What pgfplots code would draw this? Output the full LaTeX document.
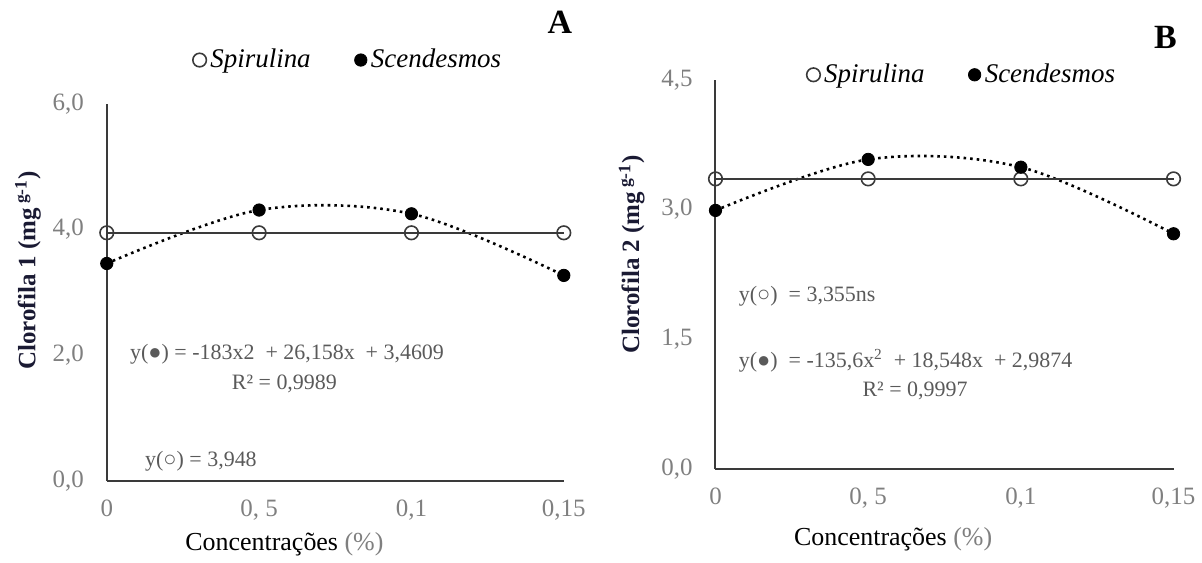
\documentclass[border=0pt]{standalone}
\usepackage{pgfplots}
\pgfplotsset{compat=1.18}
\usepackage{fontspec}
\setmainfont{Liberation Serif}
\definecolor{tickgray}{HTML}{7F7F7F}
\definecolor{axgray}{HTML}{3A3A3A}
\definecolor{eqgray}{HTML}{5A5A5A}
\definecolor{labnavy}{HTML}{1A1A33}

\pgfplotsset{
  chl/.style={
    anchor=south west, scale only axis,
    xmin=0, xmax=3,
    axis lines*=left,
    axis line style={-, axgray, line width=1pt},
    xtick={0,1,2,3}, xticklabels={0,{0, 5},{0,1},{0,15}},
    major tick length=0pt,
    tick label style={tickgray, font=\fontsize{12.5}{14}\selectfont},
    xticklabel style={yshift=-6pt},
    yticklabel style={xshift=-8pt},
    clip=false,
    legend columns=2,
    legend style={draw=none, fill=none, font=\fontsize{13.5}{15}\selectfont\itshape,
      /tikz/every even column/.append style={column sep=20pt}},
    legend image code/.code={\draw[#1] plot coordinates {(0.1cm,0cm)};},
  },
  spir/.style={axgray, line width=1.1pt, mark=o, mark size=3.4pt,
    mark options={solid, line width=0.8pt}},
  scen/.style={only marks, mark=*, black, mark size=3.1pt},
  trend/.style={black, dotted, line width=1.3pt, smooth, tension=0.55, forget plot},
}

\begin{document}
\begin{tikzpicture}[x=0.5pt, y=0.5pt]
\path (0,0) rectangle (1202,564);

% ---- A ----
\begin{axis}[chl, at={(53.5pt,41pt)}, width=229pt, height=189pt,
  ymin=0, ymax=6, ytick={0,2,4,6}, yticklabels={{0,0},{2,0},{4,0},{6,0}},
  legend style={at={(0.53,1.116)}, anchor=center}]
  \addplot[trend] coordinates {(0,3.46) (1,4.31) (2,4.25) (3,3.27)};
  \addplot[spir] coordinates {(0,3.948) (1,3.948) (2,3.948) (3,3.948)};
  \addlegendentry{Spirulina}
  \addplot[scen] coordinates {(0,3.46) (1,4.31) (2,4.25) (3,3.27)};
  \addlegendentry{Scendesmos}
\end{axis}

% ---- B ----
\begin{axis}[chl, at={(358.5pt,47pt)}, width=229.5pt, height=195pt,
  ymin=0, ymax=4.5, ytick={0,1.5,3,4.5}, yticklabels={{0,0},{1,5},{3,0},{4,5}},
  legend style={at={(0.54,1.013)}, anchor=center}]
  \addplot[trend] coordinates {(0,2.99) (1,3.58) (2,3.49) (3,2.72)};
  \addplot[spir] coordinates {(0,3.355) (1,3.355) (2,3.355) (3,3.355)};
  \addlegendentry{Spirulina}
  \addplot[scen] coordinates {(0,2.99) (1,3.58) (2,3.49) (3,2.72)};
  \addlegendentry{Scendesmos}
\end{axis}

% panel letters
\node[font=\fontsize{17}{20}\selectfont\bfseries] at (561,542) {A};
\node[font=\fontsize{17}{20}\selectfont\bfseries] at (1168,526) {B};

% equations
\begin{scope}[every node/.style={eqgray, font=\fontsize{11}{13}\selectfont, inner sep=0pt}]
\node[anchor=west] at (130,209) {y(●) = -183x2\ \ + 26,158x\ \ + 3,4609};
\node at (285,179) {R² = 0,9989};
\node[anchor=west] at (145,102) {y(○) = 3,948};
\node[anchor=west] at (740,267) {y(○)\ \ = 3,355ns};
\node[anchor=west] at (740,202) {y(●)\ \ = -135,6x\textsuperscript{2}\ \ + 18,548x\ \ + 2,9874};
\node at (917,172) {R² = 0,9997};
\end{scope}

% axis titles
\begin{scope}[every node/.style={font=\fontsize{13}{15}\selectfont}]
\node[rotate=90, labnavy, font=\fontsize{12.5}{15}\selectfont\bfseries] at (28,293) {Clorofila 1 (mg\,\textsuperscript{g-1})};
\node[rotate=90, labnavy, font=\fontsize{12.5}{15}\selectfont\bfseries] at (633,309) {Clorofila 2 (mg\,\textsuperscript{g-1})};
\node at (285,19) {Concentrações \textcolor{tickgray}{(\%)}};
\node at (895,24) {Concentrações \textcolor{tickgray}{(\%)}};
\end{scope}
\end{tikzpicture}
\end{document}
